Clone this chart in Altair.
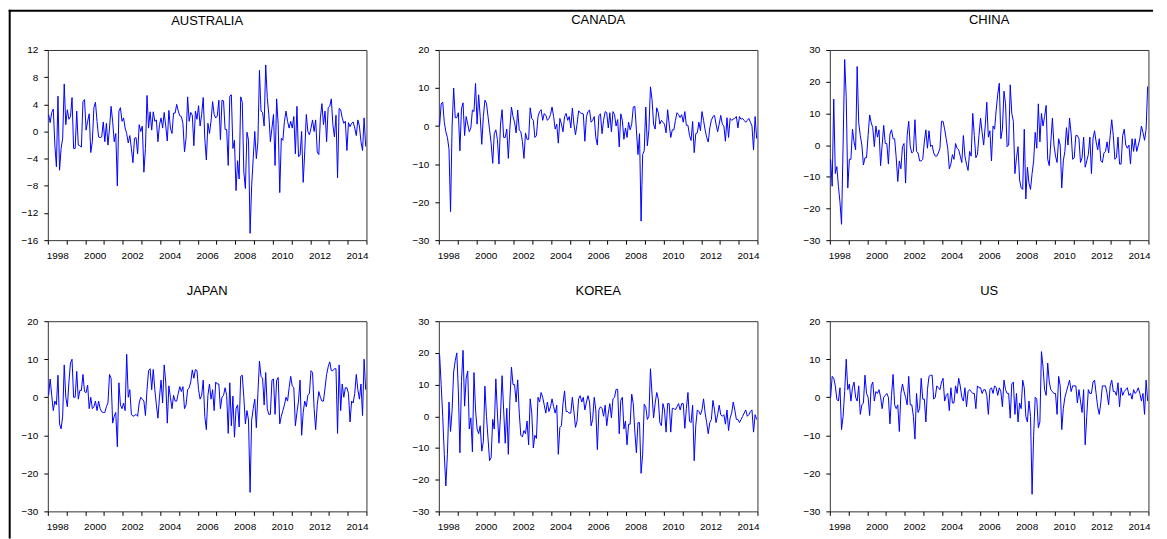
import altair as alt
import pandas as pd

START_YEAR = 1998
END_YEAR = 2015
YEARS = list(range(START_YEAR, END_YEAR))

# Monthly values, one row of 12 per year 1998..2014
AUSTRALIA = [
    [2.5, 1.3, 2.8, 3.3, -2.0, -5.2, 5.2, -5.7, -2.5, -1.0, 7.0, 1.0],
    [3.2, 1.8, 2.2, 5.0, -2.5, -2.5, 3.0, -2.0, -2.1, -2.3, 4.4, 4.7],
    [0.2, 1.5, 2.6, -3.1, -1.5, 3.5, 4.3, 1.5, -0.8, -0.9, -0.8, 1.4],
    [-1.5, 1.2, -2.0, 0.5, 3.7, 1.5, -1.5, -0.3, -8.0, 3.0, 3.5, 1.5],
    [2.0, 0.5, -0.3, -1.7, -0.6, -2.5, -4.6, -1.0, -0.9, -3.3, 1.0, 0.0],
    [0.8, -6.0, -2.5, 5.3, 0.5, 2.9, 0.2, 2.9, 1.5, 1.7, -1.5, 1.0],
    [2.0, 0.5, 2.8, 0.8, -1.4, 3.1, 0.5, -0.3, 2.7, 2.7, 4.0, 3.0],
    [2.3, 2.2, 1.2, -3.0, -1.0, 5.1, 1.5, 2.8, 2.4, -2.1, 3.0, 1.8],
    [3.8, 0.8, 2.5, 5.0, -1.0, -4.2, 1.2, -0.3, 1.5, 4.4, 2.5, 2.0],
    [2.3, 4.6, -1.2, 4.6, 4.5, 0.3, 0.3, -5.0, 5.2, 5.4, -2.5, -1.3],
    [-8.7, -4.3, -7.0, 5.1, 4.3, -6.0, -8.4, -0.1, -1.3, -15.0, -8.0, -4.0],
    [0.0, -4.0, -1.5, 9.0, 3.0, 2.8, 0.8, 9.8, 5.0, 2.5, -1.5, 0.5],
    [2.5, -5.0, 4.8, 1.0, -9.0, -1.0, -1.3, 1.5, 3.0, 1.5, 0.5, 1.5],
    [0.5, 2.2, -3.3, 3.7, -3.7, -3.5, 0.0, -7.5, -3.0, 2.5, 0.0, -0.5],
    [0.5, 1.7, 0.0, 1.7, -3.0, -3.4, 2.0, 4.1, 1.0, 3.0, -1.5, 3.5],
    [3.7, 4.8, 1.0, -0.8, 2.4, -6.8, 3.4, 3.2, 2.0, 1.2, 1.5, -2.8],
    [1.3, 0.7, 1.2, 1.4, 0.5, -0.6, 1.7, 0.8, -1.5, -2.8, 2.0, -2.2],
]

CANADA = [
    [0.0, 5.8, 6.3, 1.0, -1.5, -3.0, -6.0, -22.5, 0.0, 10.0, 2.2, 2.2],
    [3.5, -6.5, 4.5, 6.1, -2.5, 2.5, 0.5, -1.5, -0.5, 4.2, 3.8, 11.2],
    [0.5, 8.2, 2.5, -4.8, 2.5, 6.8, 6.0, 2.5, -1.0, -4.5, -9.8, -2.0],
    [-1.0, -3.5, -10.0, 0.5, 4.3, -3.0, -3.0, -0.8, -8.5, -0.5, 5.0, 2.5],
    [1.0, -1.8, 4.2, -1.0, -1.5, -4.0, -8.5, -1.8, -3.5, -3.5, 4.8, 2.0],
    [1.5, -3.0, -2.5, 2.5, 3.8, 4.3, 1.5, 3.3, 2.8, 1.5, 2.0, 3.0],
    [5.0, 2.5, -0.8, 0.5, -4.5, 2.0, 0.5, -1.5, 2.5, 3.3, 1.5, 2.5],
    [-0.5, 4.7, 0.5, -2.3, 0.5, 4.0, 3.5, 3.3, 3.2, -4.0, 2.5, 3.8],
    [4.2, 1.0, 1.5, 2.5, -3.0, -5.0, 2.8, 3.2, -2.0, 1.5, 3.8, 3.5],
    [-0.5, 3.5, -1.5, 3.8, 3.0, 0.0, 1.7, -5.5, 3.2, 1.5, -3.5, -0.5],
    [-3.0, 1.0, -1.0, 0.5, 5.0, 5.2, -1.0, -7.5, -2.0, -25.0, -7.5, -6.5],
    [5.0, -5.2, -1.0, 10.3, 7.0, 0.5, -0.8, 4.8, 3.5, 0.5, 1.5, 1.0],
    [0.5, -1.8, 4.3, 0.5, -3.0, -1.0, -1.0, 1.5, 3.5, 3.0, 2.2, 3.0],
    [1.0, 3.8, 0.2, 0.2, -2.5, -3.8, 1.2, -7.0, -2.0, -1.8, 1.0, -1.2],
    [3.8, 1.5, -1.0, -3.0, -4.2, -0.5, 1.5, 2.5, 2.8, 0.5, -1.5, 0.5],
    [2.8, 0.5, 0.0, -4.0, 2.2, -3.0, 2.0, 1.5, 1.8, 2.0, 2.5, -0.5],
    [2.5, 1.8, 2.0, 1.5, 1.0, 1.5, 2.0, 1.0, 0.0, -6.3, 2.5, -3.3],
]

CHINA = [
    [-4.5, -13.0, 14.5, -9.0, -6.8, -13.0, -18.0, -25.0, 0.0, 27.0, 15.0, -13.5],
    [-4.5, -4.5, 5.0, 1.0, -1.5, 24.8, 7.0, 3.0, 0.0, -6.3, -4.0, -4.0],
    [3.0, 9.5, 7.0, 5.5, -0.5, 6.0, 2.5, 4.8, -6.5, 0.0, 6.2, 0.5],
    [0.5, -6.0, 3.5, 4.8, 2.0, 2.0, -4.0, -11.5, -5.0, -7.5, -0.5, 0.5],
    [-12.0, 3.0, 7.5, -0.5, -2.5, -2.0, 8.0, -2.0, -2.5, -5.0, -5.0, -4.5],
    [1.0, 4.8, -1.0, 4.5, -0.5, 0.0, -2.5, -3.5, -3.5, -2.5, -1.0, 7.5],
    [7.5, 5.0, 2.0, -1.0, -7.5, -6.0, -3.0, -4.5, 0.5, -1.0, -1.5, -3.5],
    [-5.5, 3.0, -3.5, -6.0, -8.0, -2.0, -3.5, 10.0, 3.0, -4.0, -3.0, 3.0],
    [8.5, 4.0, 0.0, 6.0, 13.5, 2.5, 4.5, -5.0, 6.0, 5.0, 11.0, 16.0],
    [19.5, 2.0, 5.0, 17.0, 13.0, -0.5, 0.0, 19.0, 10.0, 7.5, -9.0, -4.0],
    [-0.5, -11.0, -13.5, -14.0, 5.0, -17.0, -7.0, -12.0, -14.0, -9.0, -5.0, 4.0],
    [-1.0, 13.0, 1.0, 10.0, 6.0, 9.0, 12.5, -4.5, -6.5, 1.0, 8.5, 0.0],
    [-3.5, -5.5, 2.0, 0.0, -13.5, -5.0, -2.0, 5.5, 0.0, 8.5, 3.5, -4.5],
    [-4.0, 3.0, 3.0, 2.0, -5.5, -4.0, 2.5, -7.0, -5.0, -3.0, 2.5, -9.0],
    [2.0, 4.5, 1.0, -1.5, 2.0, -5.0, -5.5, -2.5, -2.0, 1.0, -2.5, 3.0],
    [8.0, 3.0, -4.5, -4.0, 2.5, -6.0, -6.0, 3.0, 5.0, 0.0, -1.0, 0.0],
    [-6.0, 2.0, -2.0, 2.0, -2.0, 0.0, 2.0, 6.0, 4.0, 1.5, 5.0, 18.5],
]

JAPAN = [
    [0.5, 4.8, 0.5, -3.5, -1.0, -2.0, 5.8, -7.0, -8.3, -5.0, 8.5, 0.0],
    [-2.5, 4.0, 9.0, 10.0, 0.0, 0.0, 6.8, -0.5, 1.8, 1.8, 6.0, 1.5],
    [1.2, 3.2, -3.0, 0.0, -3.0, -2.5, -1.0, -3.5, -1.0, -3.0, -3.8, -4.0],
    [-4.0, -2.5, -1.5, 6.0, 5.0, -6.8, -5.0, -4.0, -13.0, 3.8, -2.0, -3.0],
    [-1.5, -3.5, 11.3, 0.0, 2.0, -4.5, -5.0, -4.8, -4.5, -5.0, -1.5, 0.0],
    [-0.5, -1.0, -4.8, 2.0, 7.0, 7.5, 2.0, 7.3, 2.0, -2.0, -5.5, 0.0],
    [4.5, -1.5, 8.5, 4.0, -6.8, 3.0, 0.0, -3.0, 0.5, -1.0, -1.0, 1.0],
    [2.8, 1.5, 2.8, -3.0, -2.0, 2.0, 2.5, 4.0, 7.2, 5.0, 7.3, 7.0],
    [2.0, -0.5, 0.5, 4.5, -5.0, -8.5, 0.5, 3.5, -0.5, 2.0, -3.5, 4.0],
    [3.5, 3.5, -3.0, 0.0, 0.5, 2.5, 0.5, -9.5, 3.8, -7.5, 0.3, -10.5],
    [-3.0, -2.0, -7.8, 5.5, 5.8, 0.0, -7.0, -3.5, -6.0, -25.0, -6.0, -3.0],
    [-0.5, -8.0, 1.0, 9.5, 5.5, 5.0, -2.0, 6.5, -3.0, -4.5, -4.5, 4.5],
    [4.8, -4.5, 4.5, 5.2, -7.0, -5.0, -3.5, -2.0, 0.0, -1.0, 2.5, 5.5],
    [3.0, 2.5, -7.5, -4.0, -1.0, 4.5, -10.0, -4.0, -1.0, -2.5, 0.5, 1.0],
    [7.0, 6.5, -3.0, -8.5, -2.0, 1.5, 0.0, -1.0, -1.0, 2.5, 6.0, 8.0],
    [9.3, 7.0, 7.0, 7.5, 7.5, -9.5, 8.5, -3.5, 3.5, 0.0, 2.5, 2.5],
    [1.0, -6.5, -1.0, -1.5, 1.0, 6.0, 2.0, -0.5, 3.5, -4.8, 10.0, 2.0],
]

KOREA = [
    [19.5, 10.0, 0.0, -12.0, -22.0, -12.0, 4.5, -4.8, 2.0, 14.0, 17.5, 20.0],
    [8.0, -11.5, 11.0, 20.8, 3.2, 12.0, 14.3, -4.0, -0.5, -11.2, 13.8, 2.0],
    [-4.0, -5.5, -3.0, -11.0, -8.0, 9.5, 0.0, -7.0, -14.0, -13.0, -1.0, -4.0],
    [11.8, 1.0, -8.5, 0.5, 12.8, 2.0, -8.5, 2.5, -12.0, 5.0, 15.5, 10.0],
    [10.0, 4.5, 11.5, 1.0, -6.0, -6.5, -4.5, -5.5, -1.5, -9.0, 5.5, 1.0],
    [-10.0, -6.0, -7.0, 6.0, 4.5, 7.5, 6.0, 3.5, 1.0, 4.5, 1.5, 3.0],
    [5.5, 3.0, 1.0, 3.5, -12.0, -3.5, -3.0, 4.0, 8.0, 1.5, 1.5, 1.0],
    [1.0, 6.0, 1.5, -3.5, -1.5, 5.5, 6.5, 4.5, 6.0, 2.0, 4.5, 6.5],
    [4.5, -3.0, -1.0, 6.0, 2.0, -10.5, 2.0, 3.0, 2.5, 0.0, 3.5, -3.0],
    [1.0, 4.0, -0.5, 5.5, 6.0, 8.5, 8.5, -5.5, 5.0, 6.0, -4.0, -1.5],
    [-9.0, -2.5, -2.5, 7.0, 4.0, -5.0, -11.5, -2.0, -2.0, -18.0, -12.0, 3.8],
    [3.0, -1.0, 0.0, 15.0, 7.0, -0.5, 4.0, 7.5, 5.5, -2.0, -3.0, 4.0],
    [2.0, -5.0, 4.0, 4.0, -5.0, 2.5, 2.5, 2.0, 3.0, 4.0, 2.0, 4.0],
    [4.0, -3.8, 2.5, 7.5, -1.5, -2.0, 3.5, -14.0, -3.0, 2.0, 1.5, 0.5],
    [2.0, 5.5, 1.0, -2.0, -5.5, -2.0, -1.0, 5.0, 2.0, -2.0, 0.5, 3.5],
    [0.5, 0.0, 0.5, -2.5, 2.0, -4.5, -0.5, 1.0, 4.5, 2.0, -1.0, -1.0],
    [-2.0, -1.0, 0.0, 1.0, 2.0, 0.0, 0.5, 1.5, 2.0, -5.0, 0.5, -1.0],
]

US = [
    [0.0, 5.5, 5.0, 3.0, -0.5, -1.0, 2.5, -8.5, -5.0, 1.5, 10.0, 2.0],
    [3.5, -1.0, 2.5, 4.0, 0.0, -1.0, 3.0, -4.5, -2.0, -1.5, 5.8, 1.0],
    [0.0, -4.8, 3.0, 4.0, -1.0, 1.5, 1.0, 2.0, 0.0, -3.0, 0.0, 0.5],
    [1.0, 0.0, -7.0, 0.5, 6.0, -2.0, -3.0, -2.0, -9.0, 1.0, 3.5, 1.5],
    [0.0, -2.0, 5.5, -2.0, -2.0, -5.0, -11.0, 1.0, -4.0, -3.0, 5.0, -0.5],
    [-0.5, -6.5, 2.0, 5.5, 5.8, 5.8, -0.5, 0.0, 3.0, 2.5, 2.0, 4.0],
    [5.0, -1.0, 0.5, 1.0, -3.5, 2.5, -1.5, -1.5, 3.0, 1.0, 5.0, 3.0],
    [0.0, -1.0, 2.5, -2.5, 1.5, 2.0, 1.5, 1.0, 1.0, -3.0, 3.0, 2.5],
    [2.5, 1.0, 2.0, 2.0, 0.5, -4.5, 2.0, 2.5, 1.0, 3.0, 2.5, 0.5],
    [2.5, 1.5, -2.5, 4.5, 2.0, 1.0, 1.0, -5.5, 3.5, 4.0, -4.5, 1.0],
    [-6.5, -1.5, -3.0, 4.5, 2.5, -5.0, -6.5, -1.0, -5.0, -25.5, -10.0, 0.0],
    [-0.5, -8.0, -6.5, 12.0, 8.0, 2.0, 0.5, 9.0, 4.0, 2.0, 1.5, 1.0],
    [1.0, -4.5, 5.5, 3.0, -8.5, -3.0, 0.0, 1.5, 3.0, 4.5, 1.5, 3.0],
    [3.0, 3.0, -1.5, 2.0, -1.0, -4.0, 2.0, -12.5, -5.0, 2.0, 1.0, 1.0],
    [4.0, 4.5, 1.0, -2.5, -4.5, -1.5, 3.0, 3.0, 3.0, 1.0, -2.0, 3.0],
    [4.5, 1.5, 1.5, 0.5, 3.8, -2.5, 2.5, 0.5, 1.5, 2.0, 2.5, 0.5],
    [1.0, -0.5, 2.0, 1.0, 1.5, 2.5, 1.0, -1.0, 1.0, -4.5, 4.5, -1.0],
]

PANELS = [
    ("AUSTRALIA", AUSTRALIA, -16, 12, 4),
    ("CANADA", CANADA, -30, 20, 10),
    ("CHINA", CHINA, -30, 30, 10),
    ("JAPAN", JAPAN, -30, 20, 10),
    ("KOREA", KOREA, -30, 30, 10),
    ("US", US, -30, 20, 10),
]

FONT = "Liberation Sans"
PLOT_W = 320
PLOT_H = 191


def flatten(rows):
    out = []
    for r in rows:
        assert len(r) == 12, r
        out.extend(r)
    return out


def panel(idx, name, rows, ymin, ymax, step):
    vals = flatten(rows)
    t = [START_YEAR + (i + 0.5) / 12 for i in range(len(vals))]
    df = pd.DataFrame({"t": t, "v": vals})
    line = alt.Chart(df).mark_line(color="#0000FF", strokeWidth=1).encode(
        x=alt.X(
            "t:Q",
            scale=alt.Scale(domain=[START_YEAR, END_YEAR], nice=False, zero=False),
            axis=alt.Axis(
                values=list(range(START_YEAR, END_YEAR + 1)),
                labelExpr="(datum.value % 2 == 0 && datum.value < 2015) ? '' + datum.value : ''",
                labelOffset=9.4,
                labelFlush=False,
                labelOverlap=False,
                labelPadding=6,
                title=None,
            ),
        ),
        y=alt.Y(
            "v:Q",
            scale=alt.Scale(domain=[ymin, ymax], nice=False, zero=False),
            axis=alt.Axis(
                values=list(range(ymin, ymax + 1, step)),
                labelPadding=6,
                title=None,
            ),
        ),
    )
    layers = [line]
    offset = 18.1 if idx < 3 else 18.8
    if idx == 0:
        # outer figure frame (left and top edges), drawn as thin filled bands
        one = pd.DataFrame({"k": [0]})
        layers.append(
            alt.Chart(one).mark_rect(color="black").encode(
                x=alt.value(-39.3), x2=alt.value(-37.3),
                y=alt.value(-40.3), y2=alt.value(490.7),
            )
        )
        layers.append(
            alt.Chart(one).mark_rect(color="black").encode(
                x=alt.value(-39.3), x2=alt.value(1110),
                y=alt.value(-40.3), y2=alt.value(-38.3),
            )
        )
        offset = -18.0
    return alt.layer(*layers).properties(
        width=PLOT_W,
        height=PLOT_H,
        title=alt.TitleParams(
            text=name,
            font=FONT,
            fontSize=13,
            fontWeight="normal",
            color="black",
            anchor="middle",
            frame="group",
            offset=offset,
        ),
    )


charts = [panel(i, n, r, a, b, s) for i, (n, r, a, b, s) in enumerate(PANELS)]

chart = (
    alt.concat(*charts, columns=3, spacing={"row": 81.4, "column": 72.7}, bounds="flush")
    .properties(padding=0, background="white")
    .configure_view(stroke="#333333", strokeWidth=1)
    .configure_axis(
        labelFont=FONT,
        labelFontSize=10,
        labelColor="black",
        tickColor="black",
        tickSize=4,
        tickWidth=1,
        domain=False,
        grid=False,
    )
)

chart.save("out.html", embed_options={"renderer": "svg", "actions": False})
